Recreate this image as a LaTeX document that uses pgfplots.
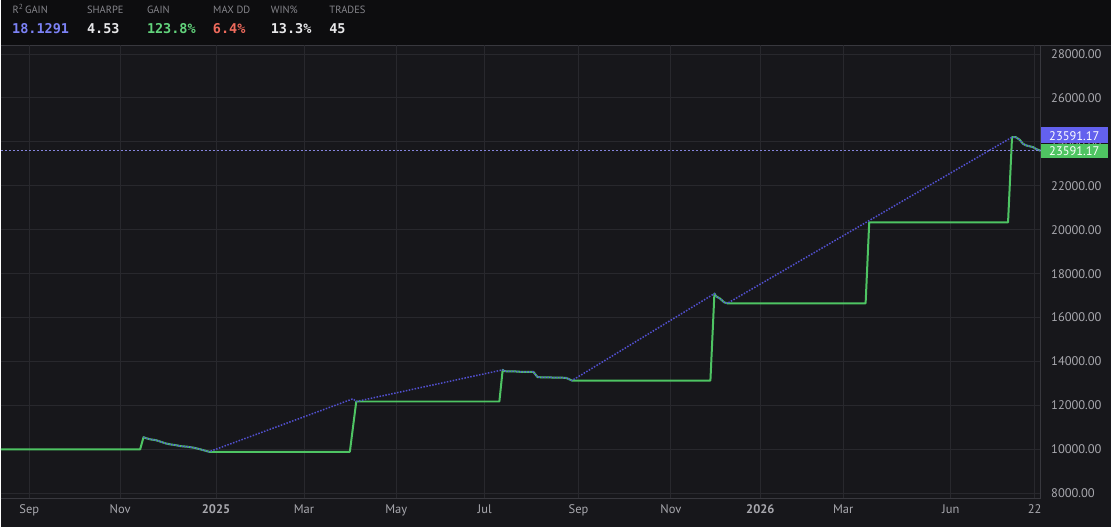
\documentclass[border=0pt]{standalone}
\usepackage{pgfplots}
\pgfplotsset{compat=1.18}
\usepackage{fontspec}
\setmainfont{PT Sans}
\newfontfamily\monofont{DejaVu Sans Mono}
\definecolor{bgplot}{HTML}{17171B}
\definecolor{bghead}{HTML}{0D0D0F}
\definecolor{gridc}{HTML}{28282D}
\definecolor{axisc}{HTML}{38383E}
\definecolor{tickc}{HTML}{A8A8AE}
\definecolor{hlab}{HTML}{85858B}
\definecolor{greenl}{HTML}{4EC463}
\definecolor{bluel}{HTML}{5250D0}
\definecolor{purplebox}{HTML}{6361EE}
\definecolor{greenbox}{HTML}{4FC462}
\definecolor{vblue}{HTML}{7C82F6}
\definecolor{vgreen}{HTML}{62D47C}
\definecolor{vred}{HTML}{EE6A5C}
\definecolor{vwhite}{HTML}{E8E8EA}
\begin{document}
\begin{tikzpicture}
\fill[bgplot] (0,0) rectangle (1111bp,-528bp);
\fill[bghead] (0,0) rectangle (1111bp,-45bp);
\draw[axisc,line width=0.8bp] (0,-45bp) -- (1111bp,-45bp);
% header
\foreach \x/\lab in {11.5/{R\textsuperscript{2}\,GAIN},86/SHARPE,146/GAIN,212.3/MAX DD,270/WIN\%,328.7/TRADES}{
  \node[anchor=base west,inner sep=0pt,text=hlab,font=\fontsize{10.5bp}{12bp}\selectfont] at (\x bp,-13.5bp) {\lab};
}
\foreach \x/\val/\col in {11/18.1291/vblue,86/4.53/vwhite,146/123.8\%/vgreen,212/6.4\%/vred,270/13.3\%/vwhite,328.5/45/vwhite}{
  \node[anchor=base west,inner sep=0pt,text=\col,font=\monofont\bfseries\fontsize{13.5bp}{15bp}\selectfont] at (\x bp,-33.3bp) {\val};
}
\begin{axis}[
  at={(0bp,-45bp)}, anchor=north west,
  scale only axis, width=1041bp, height=454bp,
  xmin=0, xmax=1041, ymin=7773, ymax=28409,
  clip=false,
  axis x line=bottom, axis y line=right,
  axis line style={axisc, line width=0.8bp, -},
  major tick length=0pt,
  grid=major, major grid style={gridc, line width=0.8bp},
  xtick={28.3,119.3,215.3,303.3,395.7,484.3,578.3,670.7,760.3,843.3,951,1035},
  xticklabels={Sep,Nov,\textbf{2025},Mar,May,Jul,Sep,Nov,\textbf{2026},Mar,Jun,22},
  xticklabel style={font=\fontsize{12.5bp}{14bp}\selectfont, text=tickc, anchor=north, yshift=-3bp},
  ytick={8000,10000,...,28000},
  scaled y ticks=false,
  yticklabel style={font=\fontsize{12.5bp}{14bp}\selectfont, text=tickc, anchor=west, xshift=7bp},
  y tick label style={/pgf/number format/fixed, /pgf/number format/fixed zerofill,
    /pgf/number format/precision=2, /pgf/number format/1000 sep={}, /pgf/number format/assume math mode=true},
]
\addplot[greenl, line width=2bp, line join=round] coordinates {
(0,10000) (139.3,10000) (142.7,10559) (145,10514) (150,10455) (155,10423) (160,10350)
(165,10273) (170,10227) (175,10195) (180,10150) (186.7,10123) (193.3,10077) (200,10000)
(208.3,9895) (349.3,9895) (355.7,12182) (499,12182) (502.3,13622) (504,13560) (515,13550)
(521,13530) (533,13530) (537.3,13288) (565.7,13260) (571.7,13136) (710.3,13136)
(714.3,17091) (716,16970) (720,16864) (724,16697) (727.3,16650) (865.7,16650)
(869.3,20332) (1008.3,20332) (1012.3,24212) (1016,24212) (1020,24091) (1023.3,23909)
(1026.7,23832) (1033.3,23759) (1036.7,23668) (1041,23591.17)
};
\addplot[bluel, line width=1.5bp, dash pattern=on 1.5bp off 1.5bp] coordinates {
(142.7,10559) (145,10514) (150,10455) (155,10423) (160,10350)
(165,10273) (170,10227) (175,10195) (180,10150) (186.7,10123) (193.3,10077) (200,10000)
(208.3,9895) (352.3,12304) (355.7,12182) (502.3,13622) (504,13560) (515,13550)
(521,13530) (533,13530) (537.3,13288) (565.7,13260) (571.7,13136)
(714.3,17091) (716,16970) (720,16864) (724,16697) (727.3,16650)
(1012.3,24212) (1016,24212) (1020,24091) (1023.3,23909)
(1026.7,23832) (1033.3,23759) (1036.7,23668) (1041,23591.17)
};
\addplot[bluel!70!white, line width=0.8bp, dash pattern=on 2bp off 2bp] coordinates {(0,23591.17) (1041,23591.17)};
\node[fill=greenbox, anchor=west, inner sep=0pt, minimum width=67bp, minimum height=14bp] (gb) at (axis cs:1041,23591.17) {};
\node[fill=purplebox, anchor=south west, inner sep=0pt, minimum width=67bp, minimum height=16.5bp] (pb) at (gb.north west) {};
\node[text=white, inner sep=0pt, font=\fontsize{12.5bp}{14bp}\selectfont] at (gb.center) {23591.17};
\node[text=white, inner sep=0pt, font=\fontsize{12.5bp}{14bp}\selectfont] at ([yshift=-0.5bp]pb.center) {23591.17};
\end{axis}
\end{tikzpicture}
\end{document}
